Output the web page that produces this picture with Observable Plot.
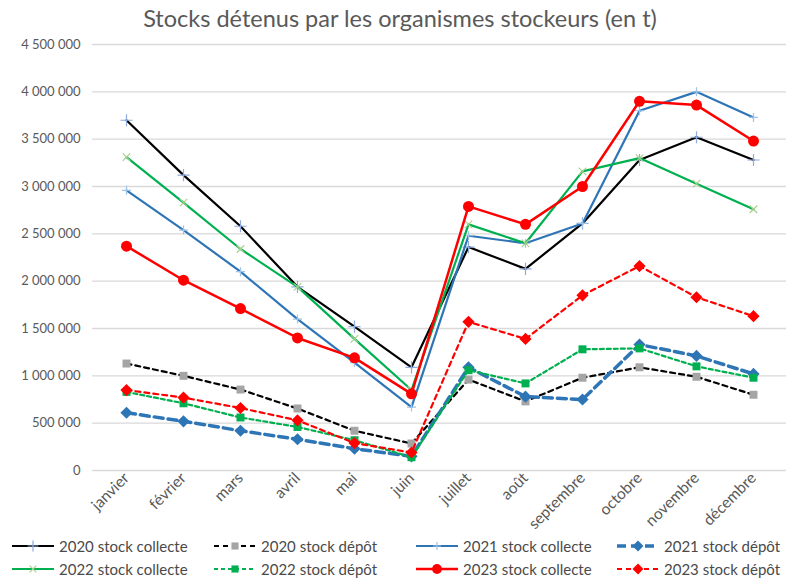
<!DOCTYPE html>
<html><head><meta charset="utf-8">
<script src="https://cdn.jsdelivr.net/npm/d3@7"></script>
<script src="https://cdn.jsdelivr.net/npm/@observablehq/plot@0.6"></script>
<style>
body{margin:0;background:#fff;font-family:Lato,"Open Sans",sans-serif;}
#wrap{width:790px;height:580px;position:relative;overflow:hidden;}
#title{height:36px;line-height:36px;text-align:center;font-size:23.5px;color:#595959;padding-left:10px;}
#legend{position:absolute;left:0;top:536px;width:790px;}
.item{position:absolute;display:flex;align-items:center;font-size:15px;color:#4a4a4a;white-space:nowrap;}
.item svg{margin-right:5px;}
</style></head>
<body><div id="wrap"><div id="title">Stocks détenus par les organismes stockeurs (en t)</div><div id="chart"></div><div id="legend"></div></div>
<script>
const months = ["janvier","février","mars","avril","mai","juin","juillet","août","septembre","octobre","novembre","décembre"];
const yTicks = [0,500000,1000000,1500000,2000000,2500000,3000000,3500000,4000000,4500000];

const collecte2020 = [3700000,3120000,2580000,1940000,1520000,1090000,2360000,2130000,2610000,3280000,3520000,3280000];
const depot2020    = [1130000,1000000,855000,655000,420000,285000,960000,730000,980000,1090000,990000,800000];
const collecte2021 = [2960000,2540000,2100000,1600000,1140000,670000,2480000,2400000,2610000,3800000,4000000,3730000];
const depot2021    = [610000,520000,420000,330000,230000,150000,1090000,780000,750000,1330000,1210000,1020000];
const collecte2022 = [3310000,2830000,2340000,1940000,1390000,850000,2600000,2400000,3160000,3300000,3030000,2760000];
const depot2022    = [830000,710000,560000,460000,320000,140000,1060000,920000,1280000,1290000,1100000,980000];
const collecte2023 = [2370000,2010000,1710000,1400000,1190000,810000,2790000,2600000,3000000,3900000,3860000,3480000];
const depot2023    = [850000,770000,660000,530000,290000,190000,1570000,1390000,1850000,2160000,1830000,1630000];

const seriesNames = ["2020 stock collecte","2020 stock dépôt","2021 stock collecte","2021 stock dépôt","2022 stock collecte","2022 stock dépôt","2023 stock collecte","2023 stock dépôt"];
const seriesValues = [collecte2020,depot2020,collecte2021,depot2021,collecte2022,depot2022,collecte2023,depot2023];

const styles = [
  {stroke:"#000000", width:2.2, dash:null, symbol:"plus", mfill:"none", mstroke:"#8faadc", r:4},
  {stroke:"#000000", width:2.2, dash:"5,4", symbol:"square", mfill:"#a5a5a5", mstroke:"none", r:4.5},
  {stroke:"#2e75b6", width:2.2, dash:null, symbol:"plus", mfill:"none", mstroke:"#9dc3e6", r:3},
  {stroke:"#2e75b6", width:3.5, dash:"9,5", symbol:"diamond2", mfill:"#2e75b6", mstroke:"none", r:5.5},
  {stroke:"#00b050", width:2.2, dash:null, symbol:"times", mfill:"none", mstroke:"#a9d18e", r:3.5},
  {stroke:"#00b050", width:2.2, dash:"4,3", symbol:"square", mfill:"#00b050", mstroke:"none", r:4.5},
  {stroke:"#ff0000", width:2.5, dash:null, symbol:"circle", mfill:"#ff0000", mstroke:"none", r:5.5},
  {stroke:"#ff0000", width:2.2, dash:"5,4", symbol:"diamond2", mfill:"#ff0000", mstroke:"none", r:5.5}
];

const fr = d3.formatLocale({decimal:",", thousands:"\u202f", grouping:[3], currency:["","€"]});
const fmt = fr.format(",d");

const marks = [
  Plot.gridY(yTicks, {stroke:"#d9d9d9", strokeOpacity:1, strokeWidth:1.3}),
  Plot.axisY(yTicks, {tickFormat:fmt, tickSize:0, tickPadding:12, fontSize:13, fill:"#595959", label:null}),
  Plot.axisX({tickSize:0, tickRotate:-45, fontSize:15.5, fill:"#595959", label:null, tickPadding:5})
];
seriesValues.forEach((vals, i) => {
  const s = styles[i];
  const data = months.map((m, j) => ({month:m, value:vals[j]}));
  marks.push(Plot.line(data, {x:"month", y:"value", stroke:s.stroke, strokeWidth:s.width, strokeDasharray:s.dash, curve:"linear"}));
  marks.push(Plot.dot(data, {x:"month", y:"value", symbol:()=>s.symbol, r:s.r, fill:s.mfill, stroke:s.mstroke, strokeWidth:1.2}));
});

const chart = Plot.plot({
  width:790, height:510,
  marginLeft:92, marginRight:4, marginTop:8, marginBottom:76,
  style:{fontFamily:"Lato, 'Open Sans', sans-serif", background:"transparent"},
  x:{type:"point", domain:months, padding:0.5},
  y:{domain:[0,4500000]},
  symbol:{type:"identity"},
  marks
});
document.getElementById("chart").appendChild(chart);

// legend
const lg = document.getElementById("legend");
const cols = [12,214,416,617];
seriesNames.forEach((name, i) => {
  const s = styles[i];
  const row = Math.floor(i/4), col = i%4;
  const div = document.createElement("div");
  div.className = "item";
  div.style.left = cols[col] + "px";
  div.style.top = (row*23) + "px";
  const sw = d3.create("svg").attr("width",42).attr("height",20);
  sw.append("line").attr("x1",0).attr("x2",42).attr("y1",10).attr("y2",10)
    .attr("stroke",s.stroke).attr("stroke-width",s.width).attr("stroke-dasharray",s.dash);
  const sym = {plus:d3.symbolPlus, times:d3.symbolTimes, square:d3.symbolSquare, circle:d3.symbolCircle, diamond2:d3.symbolDiamond2}[s.symbol];
  sw.append("path").attr("transform","translate(21,10)")
    .attr("d", d3.symbol(sym, Math.PI*s.r*s.r*0.8)())
    .attr("fill",s.mfill).attr("stroke",s.mstroke).attr("stroke-width",1.2);
  div.appendChild(sw.node());
  const t = document.createElement("span"); t.textContent = name;
  div.appendChild(t);
  lg.appendChild(div);
});
</script></body></html>
